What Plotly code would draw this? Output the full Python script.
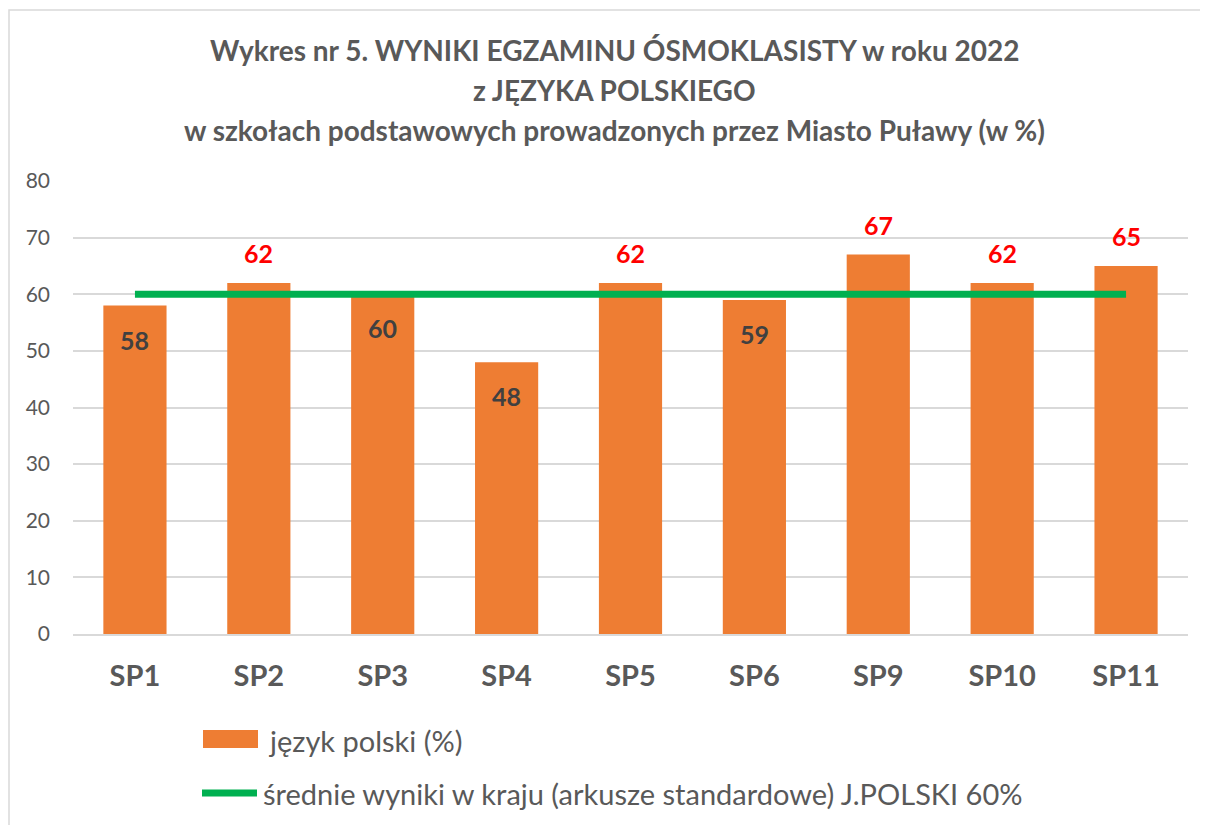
import plotly.graph_objects as go

categories = ["SP1", "SP2", "SP3", "SP4", "SP5", "SP6", "SP9", "SP10", "SP11"]
values = [58, 62, 60, 48, 62, 59, 67, 62, 65]
national_avg = [60] * len(categories)
y_ticks = [0, 10, 20, 30, 40, 50, 60, 70, 80]
series_names = ["język polski (%)",
                "średnie wyniki w kraju (arkusze standardowe) J.POLSKI 60%"]

title_lines = ["Wykres nr 5. WYNIKI EGZAMINU ÓSMOKLASISTY w roku 2022",
               "z JĘZYKA POLSKIEGO",
               "w szkołach podstawowych prowadzonych przez Miasto Puławy (w %)"]

W, H = 1208, 825
OFF = 8  # page body offset
ml, mr, mt, mb = 73 - OFF, W - (1188 - OFF), 181 - OFF, H - (634 - OFF)
pw, ph = W - ml - mr, H - mt - mb

FONT = "Lato"
GRAY = "#595959"
ORANGE = "#EE7D33"
GREEN = "#00B050"


def px_x(p):
    return (p - OFF - ml) / pw


def px_y(p):
    return (H - mb - (p - OFF)) / ph


fig = go.Figure()
fig.add_trace(go.Bar(
    x=categories, y=values, name=series_names[0],
    marker=dict(color=ORANGE, line=dict(width=0)),
    showlegend=False,
))
fig.add_trace(go.Scatter(
    x=categories, y=national_avg, mode="lines",
    name=series_names[1],
    line=dict(color=GREEN, width=7),
    showlegend=False,
))

annotations = []
for c, v in zip(categories, values):
    above = v > 60
    annotations.append(dict(
        x=c, y=v, xref="x", yref="y", text=f"<b>{v}</b>", showarrow=False,
        yshift=30 if above else -34,
        font=dict(family=FONT, size=25, color="#FF0000" if above else "#404040"),
    ))
for i, line in enumerate(title_lines):
    annotations.append(dict(
        x=px_x(614), y=px_y(50 + 40 * i), xref="paper", yref="paper",
        text=f"<b>{line}</b>",
        showarrow=False, xanchor="center", yanchor="middle",
        font=dict(family=FONT, size=28, color=GRAY),
    ))
# legend texts
annotations.append(dict(
    x=px_x(266), y=px_y(740), xref="paper", yref="paper", text=series_names[0],
    showarrow=False, xanchor="left", yanchor="middle",
    font=dict(family=FONT, size=29, color=GRAY),
))
annotations.append(dict(
    x=px_x(261), y=px_y(793), xref="paper", yref="paper", text=series_names[1],
    showarrow=False, xanchor="left", yanchor="middle",
    font=dict(family=FONT, size=29, color=GRAY),
))

shapes = [
    dict(type="rect", xref="paper", yref="paper",
         x0=px_x(OFF + 1), x1=px_x(1240), y0=px_y(850), y1=px_y(10),
         line=dict(color="#D9D9D9", width=1.5), fillcolor="rgba(0,0,0,0)",
         layer="below"),
    # legend swatches
    dict(type="rect", xref="paper", yref="paper",
         x0=px_x(203), x1=px_x(258), y0=px_y(748), y1=px_y(730),
         line=dict(width=0), fillcolor=ORANGE),
    dict(type="line", xref="paper", yref="paper",
         x0=px_x(202), x1=px_x(257), y0=px_y(793), y1=px_y(793),
         line=dict(color=GREEN, width=7)),
]

fig.update_layout(
    width=W, height=H,
    margin=dict(l=ml, r=mr, t=mt, b=mb),
    paper_bgcolor="white", plot_bgcolor="white",
    annotations=annotations,
    shapes=shapes,
    showlegend=False,
    bargap=0.49,
)
fig.update_xaxes(
    showline=True, linecolor="#D9D9D9", linewidth=1.5,
    tickfont=dict(family=FONT, size=29, color=GRAY),
    ticklabelstandoff=15, showgrid=False,
    tickvals=categories, ticktext=[f"<b>{c}</b>" for c in categories],
)
fig.update_yaxes(
    range=[0, 80], tickvals=y_ticks, showgrid=True, gridcolor="#D9D9D9", gridwidth=1.5,
    zeroline=False, showline=False,
    tickfont=dict(family=FONT, size=21, color=GRAY), ticklabelstandoff=22,
)

fig.write_html("out.html")
